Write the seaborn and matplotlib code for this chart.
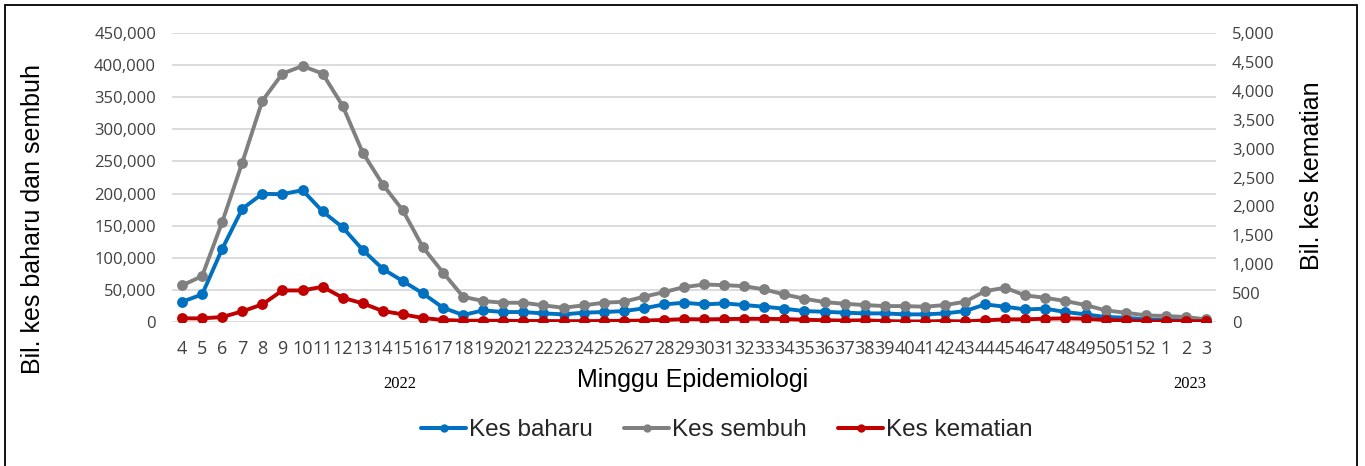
import matplotlib
matplotlib.use("Agg")
import matplotlib.pyplot as plt
import numpy as np
import pandas as pd
import seaborn as sns
from matplotlib.lines import Line2D
from matplotlib.patches import Rectangle
from matplotlib.ticker import FuncFormatter, FixedLocator

# ---------------- data ----------------
weeks = ["4", "5", "6", "7", "8", "9", "10", "11", "12", "13",
         "14", "15", "16", "17", "18", "19", "20", "21", "22", "23",
         "24", "25", "26", "27", "28", "29", "30", "31", "32", "33",
         "34", "35", "36", "37", "38", "39", "40", "41", "42", "43",
         "44", "45", "46", "47", "48", "49", "50", "51", "52",
         "1", "2", "3"]

kes_baharu = [31500, 42900, 113800, 176300, 199600, 199000, 205300, 172200, 147400, 112200,
              82700, 63600, 44500, 22200, 10900, 18100, 15500, 15500, 13400, 11900,
              14500, 15500, 17000, 21200, 27400, 30000, 27400, 29000, 26400, 23800,
              20700, 17000, 16000, 14500, 13400, 13400, 11900, 11900, 13400, 17000,
              27400, 23800, 19600, 20700, 15500, 11900, 7800, 6700, 4100,
              3100, 2600, 1500]

kes_sembuh = [56900, 71400, 155600, 248200, 344400, 386800, 398600, 386800, 336600, 263700,
              214100, 173700, 116300, 77000, 39300, 32600, 30000, 30000, 25900, 22200,
              25900, 30000, 31500, 39300, 46500, 54300, 58400, 57400, 55800, 50700,
              42900, 36200, 31000, 28400, 26400, 24800, 24800, 23800, 26400, 31500,
              48100, 53300, 41400, 37700, 32600, 26400, 18100, 14500, 10300,
              9300, 7800, 4100]

kes_kematian = [63, 63, 86, 184, 305, 546, 546, 609, 420, 322,
                190, 132, 69, 34, 23, 22, 20, 18, 17, 15,
                15, 18, 20, 25, 35, 50, 45, 50, 55, 55,
                50, 40, 30, 25, 29, 17, 10, 10, 17, 10,
                29, 46, 46, 57, 63, 57, 34, 29, 10,
                12, 17, 12]

years = ["2022", "2023"]
series_names = ["Kes baharu", "Kes sembuh", "Kes kematian"]
left_ticks = [0, 50000, 100000, 150000, 200000, 250000, 300000, 350000, 400000, 450000]
right_ticks = [0, 500, 1000, 1500, 2000, 2500, 3000, 3500, 4000, 4500, 5000]

# ---------------- style ----------------
sns.set_style("white")
plt.rcParams["font.family"] = ["Open Sans", "DejaVu Sans"]

C_BLUE = "#0070C0"
C_GREY = "#808080"
C_RED = "#C00000"
TICK_C = "#404040"

W, H = 1365, 466
fig = plt.figure(figsize=(W / 100, H / 100), dpi=100)
fig.patch.set_facecolor("white")

ax = fig.add_axes([172 / W, 1 - 322 / H, (1216 - 172) / W, (322 - 33) / H])
ax2 = ax.twinx()

df = pd.DataFrame({
    "idx": np.arange(len(weeks)),
    "week": weeks,
    "baharu": kes_baharu,
    "sembuh": kes_sembuh,
    "kematian": kes_kematian,
})

line_kw = dict(marker="o", markersize=7.8, linewidth=2.8, markeredgewidth=0, legend=False)
sns.lineplot(data=df, x="idx", y="baharu", ax=ax, color=C_BLUE, **line_kw)
sns.lineplot(data=df, x="idx", y="sembuh", ax=ax, color=C_GREY, **line_kw)
sns.lineplot(data=df, x="idx", y="kematian", ax=ax2, color=C_RED, **line_kw)

for a in (ax, ax2):
    a.set_xlim(-0.5, len(weeks) - 0.5)
    for s in a.spines.values():
        s.set_visible(False)
    a.set_xlabel("")
    a.set_ylabel("")

ax.set_ylim(0, 450000)
ax2.set_ylim(0, 5000)
ax.yaxis.set_major_locator(FixedLocator(left_ticks))
ax2.yaxis.set_major_locator(FixedLocator(right_ticks))
fmt = FuncFormatter(lambda v, p: f"{int(round(v)):,}")
ax.yaxis.set_major_formatter(fmt)
ax2.yaxis.set_major_formatter(fmt)

ax.set_xticks(df["idx"])
ax.set_xticklabels(weeks)

ax.yaxis.grid(True, color="#D9D9D9", linewidth=1.3)
ax.xaxis.grid(False)
ax2.grid(False)
ax.set_axisbelow(True)

ax.tick_params(axis="x", length=0, pad=13, labelsize=13, labelcolor=TICK_C)
ax.tick_params(axis="y", length=0, pad=11.5, labelsize=12, labelcolor=TICK_C)
ax2.tick_params(axis="y", length=0, pad=11.5, labelsize=12, labelcolor=TICK_C)

# axis titles
fig.text(33 / W, 1 - 219 / H, "Bil. kes baharu dan sembuh", rotation=90,
         ha="center", va="center", fontsize=18, family="Liberation Sans", color="black")
fig.text(1312 / W, 1 - 176 / H, "Bil. kes kematian", rotation=90,
         ha="center", va="center", fontsize=18, family="Liberation Sans", color="black")
fig.text(693 / W, 1 - 380 / H, "Minggu Epidemiologi",
         ha="center", va="center", fontsize=18, family="Liberation Sans", color="black")

# year labels
fig.text(400 / W, 1 - 384 / H, years[0], ha="center", va="center",
         fontsize=12, family="Liberation Serif", color="black")
fig.text(1190 / W, 1 - 384 / H, years[1], ha="center", va="center",
         fontsize=12, family="Liberation Serif", color="black")

# legend
handles = [Line2D([0], [0], color=c, lw=2.9, marker="o", markersize=6, markeredgewidth=0)
           for c in (C_BLUE, C_GREY, C_RED)]
fig.legend(handles, series_names, loc="center", bbox_to_anchor=(727 / W, 1 - 430 / H),
           ncol=3, frameon=False, prop={"family": "Liberation Sans", "size": 17.5},
           handlelength=1.85, handletextpad=0.12, columnspacing=1.3)

# outer border
fig.add_artist(Rectangle((5 / W, -0.05), (1357 - 5) / W, (H - 5) / H + 0.05,
                         transform=fig.transFigure, fill=False, edgecolor="black", linewidth=1.3))

fig.savefig("out.png", dpi=100, facecolor="white")
